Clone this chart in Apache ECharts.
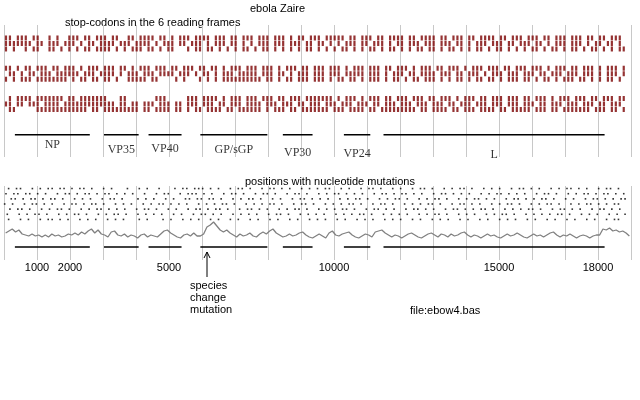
<!DOCTYPE html>
<html>
<head>
<meta charset="utf-8">
<script src="https://cdn.jsdelivr.net/npm/echarts@6/dist/echarts.min.js"></script>
<style>
  html, body { margin: 0; padding: 0; background: #fff; }
  #chart { width: 640px; height: 400px; }
</style>
</head>
<body>
<div id="chart"></div>
<script>
// genome cell size (bp) for the stop-codon and mutation strips
const CELL = 120;

// stop codons, one string per frame row, '1' = stop codon in that cell
const stopRows = [
  '1101110110010100111011011101100110111101101011101111011101101110111011101011011101111101101110110111101101111011011101101111011011101110110111011101101101110',
  '1111111011011101110101101111011101111010111011011101011101101010111011101110110110101011101101110101101110111011101101011101110110111011010111011101011011010',
  '1010010110011010101011011110101011101101011000101101101010101101011010101010110101010110101011010110101011011010110101011010110101010110101101011010110101011',
  '1101011011101101110101110111011010111011101101110110110101110111011101011101101110111010111011101101110101110110111010111011101101110111010111011011101011101',
  '0110101101110111111011101111010111011101111011101011010111011111011101101011101110111011111011101011101101111011101101110101110111011101101110111011101011101',
  '1010111011111111010110110110100111110110000101000101010111111111101101011011101110101101101011101011010110111010101101011011010111011010110101110110101011010',
  '0101111011111110110111111100011000000011100000111011110101110111011101101110111111101011101011101101110111011011101011101101110111011011101011101110110111011',
  '1101101110111101111111111111011011011101110110111011101101110111101110111011011101110111011101101110111011101110110111011101110111011101101110111011101101110',
  '0110000011111111111110110111111111011011110110101101111011011111101011101101111111011101111011011111111101101111011011101111011011111011101101111111011101101'
];
const stopRowY = [0, 1, 2, 5.5, 6.5, 7.5, 11, 12, 13];

// mutated positions, one string per strip row
const mutRows = [
  '0101100101011011010110100101000100101001000101101110101001011010010110101001010101100101001011010010100101101001010110100101010010110101001010110101001011010',
  '1011011010100101101011010110101010010010110010111010100101101001011010010110100101011010101001011010110101001011010101001010110101010010110100101011010110101',
  '0110101101011010010101001011010001010100101001101101101001010110100101001011010101001010110100101011010010101101001010110101001011010101101001010010110101011',
  '1010010110101001011010110100101010010101101010100101010110100101010110100101101001010101101001011010010101011010010110101001010110100101011010010101101010110',
  '0101101001010110100101011010101001011010010100101101011010010110101001010110100101010110100101101010010110101001011010101101001010101101001011010100101101010',
  '1001010110100101011010010101101001010101001010010110101001010101001011010010101010010101011010010101010010101101001010100101011010010101010110100101010010101',
  '0100101001011010100101010010101000101000101001010100101001010010100101001010010101001010010101001010100101001010100101001010010101001010010100101001010010110'
];

// mutation variability, one value per 100 bp
const variability = [
  27,29,31,28,30,26,25,24,26,24,25,23,25,23,26,24,25,23,24,26,25,27,25,28,26,29,31,27,30,26,
  25,23,28,29,25,24,26,23,25,24,22,25,26,23,25,24,23,26,29,30,27,25,23,22,25,26,24,27,24,24,
  26,33,35,38,34,30,28,30,27,25,23,26,24,25,27,24,23,26,28,26,29,31,27,25,23,24,26,24,25,27,
  28,25,23,22,24,26,24,22,27,29,25,24,26,27,28,25,23,22,24,26,25,23,28,29,30,27,25,23,25,24,
  22,24,26,27,25,23,22,24,26,27,25,23,26,25,23,26,24,25,27,28,25,23,25,24,22,24,26,24,25,23,
  22,24,26,24,25,27,25,23,22,24,26,24,25,23,25,27,28,25,23,25,24,26,24,22,24,25,24,22,24,25,
  25,31,30,32,29,30,28,29,27,24
];

const genes = ['NP', 'VP35', 'VP40', 'GP/sGP', 'VP30', 'VP24', 'L'];
const geneStart = [330, 3030, 4380, 5950, 8450, 10300, 11500];
const geneEnd = [2600, 4080, 5380, 7980, 9350, 11100, 18200];
const geneLabelY = [19.5, 20.4, 20.2, 20.4, 20.8, 21.1, 21.3];

const tickLabels = [1000, 2000, 5000, 10000, 15000, 18000];

function cellPoints(rows, rowY) {
  let pts = [];
  for (let r = 0; r < rows.length; r++) {
    for (let i = 0; i < rows[r].length; i++) {
      if (rows[r][i] == '1') pts.push([i * CELL + CELL / 2, rowY[r]]);
    }
  }
  return pts;
}

function geneLines(yv, xAxisIndex, yAxisIndex) {
  return genes.map(function (g, i) {
    return {
      type: 'line', xAxisIndex: xAxisIndex, yAxisIndex: yAxisIndex,
      data: [[geneStart[i], yv], [geneEnd[i], yv]],
      symbol: 'none', silent: true,
      lineStyle: { color: '#000', width: 1.5 }
    };
  });
}

let mutPoints = [];
for (let r = 0; r < mutRows.length; r++) {
  for (let i = 0; i < mutRows[r].length; i++) {
    if (mutRows[r][i] == '1') mutPoints.push([i * CELL + (r % 3) * 40 + 20, r]);
  }
}
let varPoints = variability.map(function (v, i) { return [i * 100 + 50, v]; });

const textFont = 'Liberation Sans';
const xBase = {
  type: 'value', min: 0, max: 19000, interval: 1000,
  axisLine: { show: false }, axisTick: { show: false }, axisLabel: { show: false },
  splitLine: { show: true, lineStyle: { color: '#c8c8c8', width: 1 } }
};

let chart = echarts.init(document.getElementById('chart'), null, { renderer: 'canvas' });

let option = {
  animation: false,
  backgroundColor: '#fff',
  grid: [
    { left: 4, width: 627, top: 25, height: 132 },
    { left: 4, width: 627, top: 186, height: 36 },
    { left: 4, width: 627, top: 215, height: 45 }
  ],
  xAxis: [
    Object.assign({ gridIndex: 0 }, xBase),
    Object.assign({ gridIndex: 1 }, xBase),
    Object.assign({ gridIndex: 2 }, xBase, {
      axisLabel: {
        show: true, margin: 2, fontFamily: textFont, fontSize: 11, color: '#000',
        formatter: function (v) { return tickLabels.indexOf(v) >= 0 ? String(v) : ''; }
      }
    })
  ],
  yAxis: [
    { gridIndex: 0, type: 'value', inverse: true, min: -2.36, max: 21.64, show: false },
    { gridIndex: 1, type: 'value', inverse: true, min: -0.5, max: 6.5, show: false },
    { gridIndex: 2, type: 'value', min: 0, max: 45, show: false }
  ],
  series: [
    {
      type: 'scatter', xAxisIndex: 0, yAxisIndex: 0, data: cellPoints(stopRows, stopRowY),
      symbol: 'rect', symbolSize: [2.2, 5], itemStyle: { color: '#7a0000' }, silent: true
    },
    {
      type: 'scatter', xAxisIndex: 0, yAxisIndex: 0, silent: true,
      data: genes.map(function (g, i) { return [(geneStart[i] + geneEnd[i]) / 2, geneLabelY[i], g]; }),
      symbolSize: 0,
      label: {
        show: true, position: 'inside', formatter: function (p) { return p.data[2]; },
        fontFamily: 'Liberation Serif', fontSize: 12, color: '#000'
      }
    },
    {
      type: 'scatter', xAxisIndex: 1, yAxisIndex: 1, data: mutPoints,
      symbol: 'rect', symbolSize: 1.6, itemStyle: { color: '#000' }, silent: true
    },
    {
      type: 'line', xAxisIndex: 2, yAxisIndex: 2, data: varPoints, symbol: 'none',
      lineStyle: { color: '#808080', width: 1.3 }, silent: true
    }
  ].concat(geneLines(17.6, 0, 0)).concat(geneLines(13, 2, 2)),
  graphic: [
    { type: 'text', left: 250, top: 3, style: { text: 'ebola Zaire', font: '11px ' + textFont, fill: '#000' } },
    { type: 'text', left: 65, top: 17, style: { text: 'stop-codons in the 6 reading frames', font: '11px ' + textFont, fill: '#000' } },
    { type: 'text', left: 245, top: 176, style: { text: 'positions with nucleotide mutations', font: '11px ' + textFont, fill: '#000' } },
    { type: 'line', shape: { x1: 207, y1: 252, x2: 207, y2: 277 }, style: { stroke: '#000', lineWidth: 1 } },
    { type: 'polyline', shape: { points: [[204, 258], [207, 252], [210, 258]] }, style: { stroke: '#000', lineWidth: 1, fill: null } },
    { type: 'text', left: 190, top: 280, style: { text: 'species\nchange\nmutation', font: '11px ' + textFont, fill: '#000', lineHeight: 12 } },
    { type: 'text', left: 410, top: 305, style: { text: 'file:ebow4.bas', font: '11px ' + textFont, fill: '#000' } }
  ]
};
chart.setOption(option);
</script>
</body>
</html>
